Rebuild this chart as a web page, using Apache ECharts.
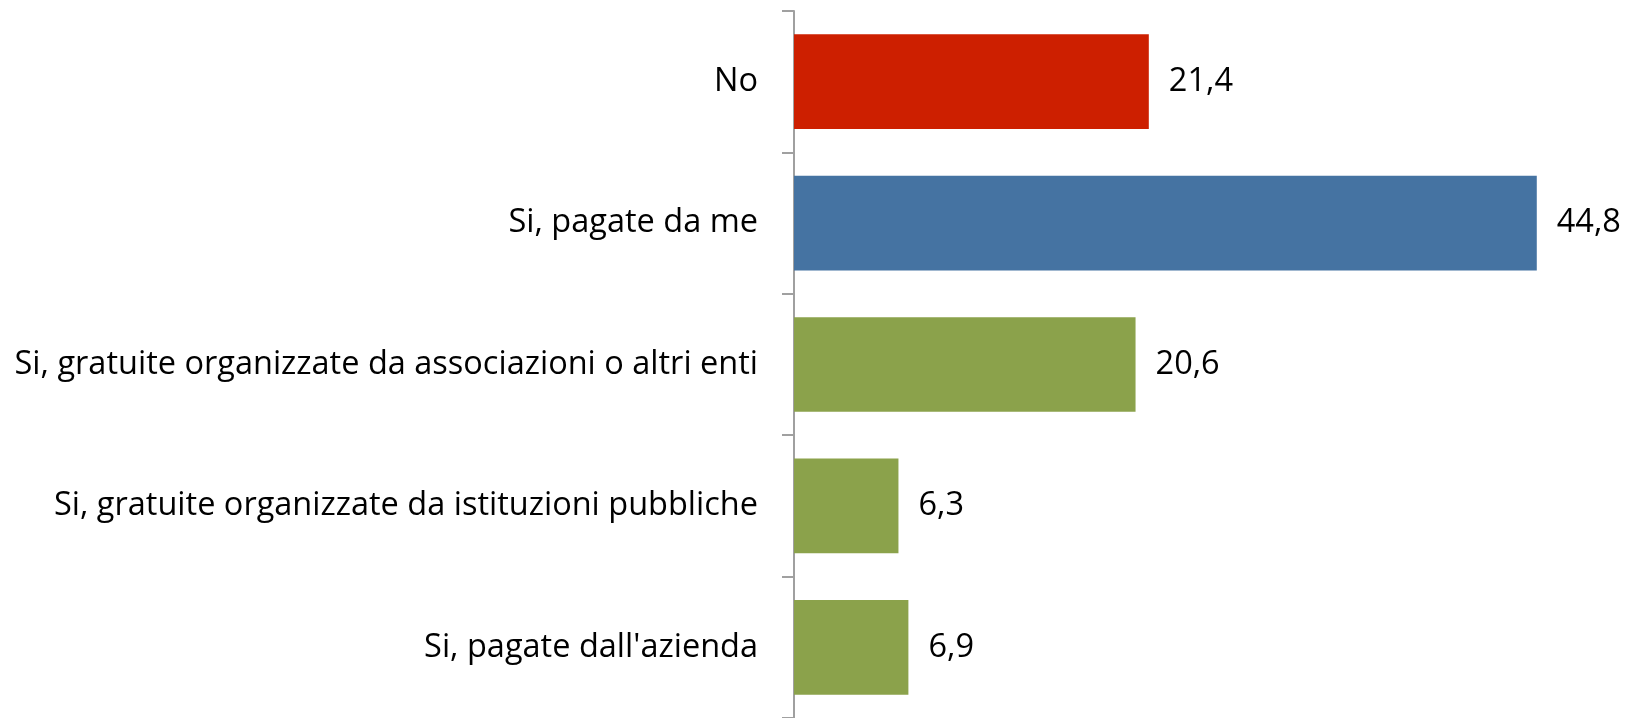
<!DOCTYPE html>
<html>
<head>
<meta charset="utf-8">
<script src="https://cdn.jsdelivr.net/npm/echarts@6/dist/echarts.min.js"></script>
<style>
html, body { margin: 0; padding: 0; background: #fff; }
#main { width: 1638px; height: 718px; }
</style>
</head>
<body>
<div id="main"></div>
<script>
var categories = ["No", "Si, pagate da me", "Si, gratuite organizzate da associazioni o altri enti", "Si, gratuite organizzate da istituzioni pubbliche", "Si, pagate dall'azienda"];
var values = [21.4, 44.8, 20.6, 6.3, 6.9];
var colors = ["#cd1f00", "#4573a2", "#8ba24b", "#8ba24b", "#8ba24b"];

var myChart = echarts.init(document.getElementById('main'));
var barData = [];
for (var i = 0; i < values.length; i++) {
    barData.push({ value: values[i], itemStyle: { color: colors[i] } });
}
var option = {
    animation: false,
    grid: {
        left: 794,
        top: 11,
        width: 829,
        height: 708
    },
    xAxis: {
        type: "value",
        min: 0,
        max: 50,
        show: false
    },
    yAxis: {
        type: "category",
        inverse: true,
        data: categories,
        axisLine: { show: true, lineStyle: { color: "#a0a0a0", width: 2 } },
        axisTick: { show: true, length: 12, lineStyle: { color: "#a0a0a0", width: 2 } },
        axisLabel: {
            margin: 36,
            color: "#000",
            fontFamily: "Open Sans",
            fontSize: 32.5
        }
    },
    series: [{
        type: "bar",
        data: barData,
        barCategoryGap: "33%",
        label: {
            show: true,
            position: "right",
            distance: 20,
            color: "#000",
            fontFamily: "Open Sans",
            fontSize: 32.5,
            formatter: function (p) {
                return p.value.toFixed(1).replace(".", ",");
            }
        }
    }]
};
myChart.setOption(option);
</script>
</body>
</html>
